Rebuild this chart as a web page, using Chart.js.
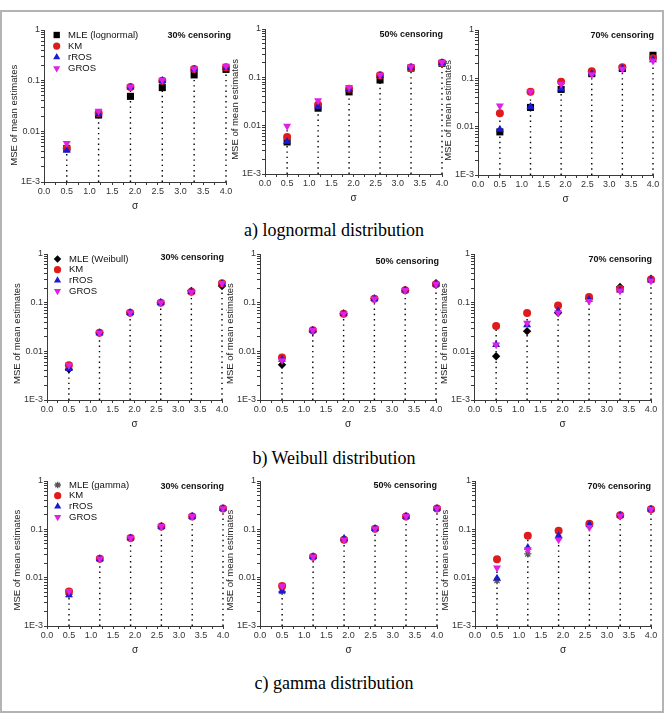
<!DOCTYPE html>
<html>
<head>
<meta charset="utf-8">
<script src="https://cdn.jsdelivr.net/npm/chart.js@4.4.0/dist/chart.umd.min.js"></script>
<style>
  body { margin: 0; background: #fff; width: 668px; height: 722px; position: relative; overflow: hidden; }
  #frame { position: absolute; left: 0; top: 10px; width: 660px; height: 699px; border: 2px solid #b4b4b4; }
  canvas { position: absolute; }
  .cap { position: absolute; left: 0; width: 668px; text-align: center; font-family: "Liberation Serif", "Times New Roman", serif; font-size: 18px; color: #000; line-height: 20px; }
</style>
</head>
<body>
<div id="frame"></div>
<div class="cap" style="top:220px">a) lognormal distribution</div>
<div class="cap" style="top:448px">b) Weibull distribution</div>
<div class="cap" style="top:673px">c) gamma distribution</div>

<script>
// ===== data =====
const sigma = [0.5, 1.2, 1.9, 2.6, 3.3, 4.0];
const xTickLabels = ['0.0', '0.5', '1.0', '1.5', '2.0', '2.5', '3.0', '3.5', '4.0'];
const yTickLabels = ['1E-3', '0.01', '0.1', '1'];
const censorLabels = ['30% censoring', '50% censoring', '70% censoring'];
const mleNames = ['MLE (lognormal)', 'MLE (Weibull)', 'MLE (gamma)'];

// lognormal
const ln30MLE  = [0.0046, 0.021, 0.049, 0.073, 0.13, 0.167];
const ln30KM   = [0.0046, 0.023, 0.075, 0.100, 0.17, 0.185];
const ln30rROS = [0.0042, 0.022, 0.074, 0.100, 0.168, 0.18];
const ln30GROS = [0.0058, 0.025, 0.076, 0.103, 0.172, 0.195];

const ln50MLE  = [0.0046, 0.023, 0.050, 0.088, 0.155, 0.195];
const ln50KM   = [0.0058, 0.027, 0.058, 0.110, 0.160, 0.200];
const ln50rROS = [0.0047, 0.025, 0.056, 0.108, 0.160, 0.200];
const ln50GROS = [0.0098, 0.033, 0.062, 0.112, 0.165, 0.205];

const ln70MLE  = [0.0078, 0.025, 0.059, 0.125, 0.160, 0.30];
const ln70KM   = [0.019, 0.053, 0.085, 0.140, 0.170, 0.26];
const ln70rROS = [0.0088, 0.026, 0.060, 0.125, 0.160, 0.24];
const ln70GROS = [0.027, 0.053, 0.076, 0.120, 0.155, 0.23];

// Weibull
const wb30MLE  = [0.0043, 0.024, 0.062, 0.100, 0.175, 0.22];
const wb30KM   = [0.0052, 0.024, 0.062, 0.100, 0.168, 0.25];
const wb30rROS = [0.0044, 0.024, 0.062, 0.100, 0.168, 0.245];
const wb30GROS = [0.0052, 0.024, 0.062, 0.100, 0.165, 0.25];

const wb50MLE  = [0.0053, 0.026, 0.059, 0.120, 0.180, 0.25];
const wb50KM   = [0.0075, 0.027, 0.059, 0.120, 0.180, 0.24];
const wb50rROS = [0.0068, 0.027, 0.059, 0.120, 0.180, 0.24];
const wb50GROS = [0.0065, 0.027, 0.059, 0.120, 0.180, 0.24];

const wb70MLE  = [0.0079, 0.026, 0.062, 0.120, 0.210, 0.31];
const wb70KM   = [0.033, 0.061, 0.087, 0.130, 0.190, 0.30];
const wb70rROS = [0.0137, 0.035, 0.068, 0.116, 0.180, 0.29];
const wb70GROS = [0.0137, 0.038, 0.062, 0.107, 0.175, 0.28];

// gamma
const gm30MLE  = [0.0045, 0.0245, 0.066, 0.115, 0.185, 0.27];
const gm30KM   = [0.0052, 0.0245, 0.066, 0.115, 0.185, 0.27];
const gm30rROS = [0.0044, 0.0245, 0.066, 0.115, 0.185, 0.27];
const gm30GROS = [0.0052, 0.0245, 0.066, 0.115, 0.185, 0.27];

const gm50MLE  = [0.0052, 0.027, 0.061, 0.103, 0.185, 0.27];
const gm50KM   = [0.0067, 0.027, 0.061, 0.103, 0.185, 0.27];
const gm50rROS = [0.0053, 0.027, 0.065, 0.103, 0.185, 0.27];
const gm50GROS = [0.0067, 0.027, 0.061, 0.103, 0.185, 0.27];

const gm70MLE  = [0.0087, 0.031, 0.068, 0.120, 0.195, 0.26];
const gm70KM   = [0.024, 0.074, 0.094, 0.130, 0.195, 0.26];
const gm70rROS = [0.0097, 0.042, 0.073, 0.125, 0.195, 0.26];
const gm70GROS = [0.016, 0.038, 0.061, 0.110, 0.190, 0.26];

// ===== styles / layout =====
const FONT = '"Liberation Sans", Arial, sans-serif';
const axisColor = '#3a3a3a';
const mleStyles = [
  { style: 'rect', color: '#000', radius: 5, bw: 0 },
  { style: 'rectRot', color: '#000', radius: 4.2, bw: 0 },
  { style: 'star', color: '#555', radius: 3.6, bw: 1.3 }
];
const kmStyle   = { style: 'circle', color: '#e01b1b', radius: 4, bw: 0 };
const rrosStyle = { style: 'triangle', color: '#1a1ad4', radius: 4.6, bw: 0 };
const grosStyle = { style: 'triangle', rotation: 180, color: '#e020e4', radius: 4.6, bw: 0 };

// box = plot area [left, top, right, bottom] on the page
// lab = censoring label offset, leg = legend [marker x, text x, first row, row gap], pad = spaces that push the y title down
const panels = [
  { box: [44, 30, 226, 182], dist: 0, cens: 0, s: [ln30MLE, ln30KM, ln30rROS, ln30GROS], lab: [5, 6], pad: 7, leg: [12.7, 24, 5, 11.1] },
  { box: [265, 29, 442, 174], dist: 0, cens: 1, s: [ln50MLE, ln50KM, ln50rROS, ln50GROS], lab: [1, 6], pad: 6 },
  { box: [478, 30, 653, 175], dist: 0, cens: 2, s: [ln70MLE, ln70KM, ln70rROS, ln70GROS], lab: [1, 6], pad: 6 },
  { box: [47, 254, 222, 400], dist: 1, cens: 0, s: [wb30MLE, wb30KM, wb30rROS, wb30GROS], lab: [2, 4], pad: 5, leg: [10.5, 22, 5, 10.7] },
  { box: [260, 254, 436, 400], dist: 1, cens: 1, s: [wb50MLE, wb50KM, wb50rROS, wb50GROS], lab: [3, 8], pad: 5 },
  { box: [474, 254, 651, 400], dist: 1, cens: 2, s: [wb70MLE, wb70KM, wb70rROS, wb70GROS], lab: [1, 6], pad: 5 },
  { box: [47, 481, 223, 626], dist: 2, cens: 0, s: [gm30MLE, gm30KM, gm30rROS, gm30GROS], lab: [1, 6], pad: 5, leg: [10.7, 22, 4, 10.7] },
  { box: [260, 481, 437, 626], dist: 2, cens: 1, s: [gm50MLE, gm50KM, gm50rROS, gm50GROS], lab: [0, 5], pad: 5 },
  { box: [475, 481, 651, 626], dist: 2, cens: 2, s: [gm70MLE, gm70KM, gm70rROS, gm70GROS], lab: [0, 6], pad: 5 }
];

function pointSet(label, values, st, order) {
  return {
    label: label,
    data: sigma.map((x, i) => ({ x: x, y: values[i] })),
    pointStyle: st.style,
    rotation: st.rotation || 0,
    pointRadius: st.radius,
    backgroundColor: st.color,
    borderColor: st.color,
    borderWidth: st.bw,
    order: order,
    clip: false
  };
}

// dotted drop line from the axis up to the highest marker at each sigma
function dropSet(series) {
  const pts = [];
  sigma.forEach((x, i) => {
    const top = Math.max(...series.map(s => s[i]));
    pts.push({ x: x, y: 0.001 }, { x: x, y: top }, { x: x, y: null });
  });
  return {
    type: 'line',
    data: pts,
    borderColor: '#000',
    borderWidth: 1.4,
    borderDash: [1.4, 3.9],
    pointRadius: 0,
    spanGaps: false,
    order: 10,
    clip: false
  };
}

panels.forEach(p => {
  const [L, T, R, B] = p.box;
  const W = R - L + 44 + 16, H = B - T + 8 + 36;
  const cv = document.createElement('canvas');
  cv.width = W; cv.height = H;
  cv.style.left = (L - 44) + 'px';
  cv.style.top = (T - 8) + 'px';
  cv.style.width = W + 'px';
  cv.style.height = H + 'px';
  document.body.appendChild(cv);

  const mle = mleStyles[p.dist];
  const items = [
    [mleNames[p.dist], mle], ['KM', kmStyle], ['rROS', rrosStyle], ['GROS', grosStyle]
  ];

  // censoring label + legend (first column only)
  const notes = {
    id: 'notes',
    afterDatasetsDraw(chart) {
      const { ctx, chartArea } = chart;
      ctx.save();
      ctx.fillStyle = '#111';
      ctx.font = 'bold 9px ' + FONT;
      ctx.textAlign = 'right';
      ctx.textBaseline = 'middle';
      ctx.fillText(censorLabels[p.cens], chartArea.right + p.lab[0], chartArea.top + p.lab[1]);
      if (p.leg) {
        const [mx, tx, t0, gap] = p.leg;
        ctx.textAlign = 'left';
        ctx.font = '9.5px ' + FONT;
        items.forEach((it, i) => {
          const st = it[1];
          const y = chartArea.top + t0 + i * gap;
          ctx.fillStyle = st.color;
          ctx.strokeStyle = st.color;
          Chart.helpers.drawPoint(ctx, {
            pointStyle: st.style, rotation: st.rotation || 0,
            radius: st.radius * 0.9, borderWidth: st.bw
          }, chartArea.left + mx, y);
          ctx.fillStyle = '#111';
          ctx.fillText(it[0], chartArea.left + tx, y);
        });
      }
      ctx.restore();
    }
  };

  new Chart(cv, {
    type: 'scatter',
    data: {
      datasets: [
        dropSet(p.s),
        pointSet(mleNames[p.dist], p.s[0], mle, 4),
        pointSet('KM', p.s[1], kmStyle, 3),
        pointSet('rROS', p.s[2], rrosStyle, 2),
        pointSet('GROS', p.s[3], grosStyle, 1)
      ]
    },
    options: {
      responsive: false,
      animation: false,
      devicePixelRatio: 1,
      layout: { autoPadding: false, padding: { left: 0, top: 8, right: 16, bottom: 0 } },
      plugins: { legend: { display: false }, tooltip: { enabled: false } },
      scales: {
        x: {
          type: 'linear', min: 0, max: 4,
          afterFit: s => { s.height = 36; },
          border: { color: axisColor, width: 1 },
          grid: { drawOnChartArea: false, tickLength: 3, color: axisColor },
          ticks: {
            stepSize: 0.25, autoSkip: false, maxRotation: 0, padding: 1,
            color: '#333', font: { size: 9, family: FONT },
            callback: v => {
              const k = Math.round(v * 2);
              return Math.abs(v * 2 - k) < 1e-6 ? xTickLabels[k] : '';
            }
          },
          title: { display: true, text: 'σ', color: '#222', font: { size: 10, family: FONT }, padding: { top: 0, bottom: 6 } }
        },
        y: {
          type: 'logarithmic', min: 0.001, max: 1,
          afterFit: s => { s.width = 44; },
          afterBuildTicks: s => {
            s.ticks = s.ticks.filter(t => {
              const m = t.value / Math.pow(10, Math.floor(Math.log10(t.value) + 1e-9));
              return Math.abs(m - Math.round(m)) < 1e-6;
            });
          },
          border: { color: axisColor, width: 1 },
          grid: { drawOnChartArea: false, tickLength: 3, color: axisColor },
          ticks: {
            autoSkip: false, padding: 1, color: '#333', font: { size: 9, family: FONT },
            callback: v => {
              const e = Math.log10(v), k = Math.round(e);
              return Math.abs(e - k) < 1e-6 ? yTickLabels[k + 3] : '';
            }
          },
          title: {
            display: true, text: 'MSE of mean estimates' + ' '.repeat(p.pad), color: '#222',
            font: { size: 9.5, family: FONT }, padding: { top: 9, bottom: 0 }
          }
        }
      }
    },
    plugins: [notes]
  });
});
</script>
</body>
</html>
